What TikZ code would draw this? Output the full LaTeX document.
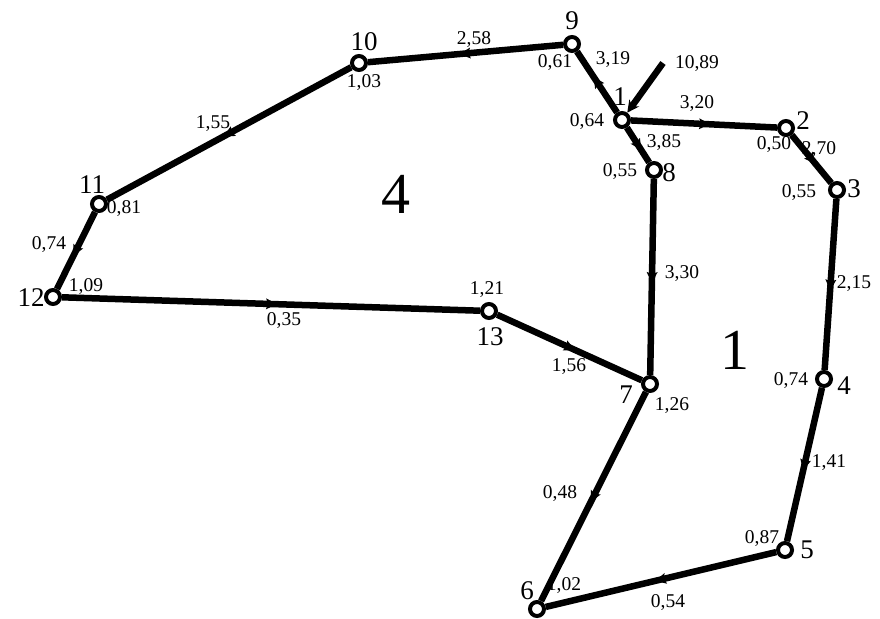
\documentclass[tikz,border=0pt]{standalone}
\usepackage{fontspec}
\setmainfont{Liberation Serif}
\usetikzlibrary{decorations.markings,arrows.meta}
\begin{document}
\begin{tikzpicture}[x=1pt,y=-1pt,
 pt/.style={circle,draw,line width=4pt,fill=white,inner sep=0pt,minimum size=14pt},
 pipe/.style={line width=6.5pt, postaction={decorate},
   decoration={markings, mark=at position 0.5 with {\fill (6pt,0pt) -- (-5pt,5.5pt) -- (-3pt,0pt) -- (-5pt,-5.5pt) -- cycle;}}},
 val/.style={font=\fontsize{19.5}{19.5}\selectfont, inner sep=0pt},
 num/.style={font=\fontsize{27}{27}\selectfont, inner sep=0pt},
 big/.style={font=\fontsize{58}{58}\selectfont, inner sep=0pt}]
\useasboundingbox (0,0) rectangle (880,618);
% points
\node[pt] (n1) at (622,120) {};
\node[pt] (n2) at (786,128) {};
\node[pt] (n3) at (837,190) {};
\node[pt] (n4) at (824,379) {};
\node[pt] (n5) at (785,550) {};
\node[pt] (n6) at (537,609) {};
\node[pt] (n7) at (650,384) {};
\node[pt] (n8) at (654,170) {};
\node[pt] (n9) at (572,44) {};
\node[pt] (n10) at (359,63) {};
\node[pt] (n11) at (99,204) {};
\node[pt] (n12) at (53,297) {};
\node[pt] (n13) at (489,311) {};
\coordinate (feed) at (663,63);
% connectors
\draw[line width=6.5pt, -{Stealth[length=12pt,width=12pt]}] (feed) -- (n1);
\draw[pipe] (n1) -- (n9);
\draw[pipe] (n9) -- (n10);
\draw[pipe] (n10) -- (n11);
\draw[pipe] (n11) -- (n12);
\draw[pipe] (n12) -- (n13);
\draw[pipe] (n13) -- (n7);
\draw[pipe] (n1) -- (n8);
\draw[pipe] (n8) -- (n7);
\draw[pipe] (n7) -- (n6);
\draw[pipe] (n1) -- (n2);
\draw[pipe] (n2) -- (n3);
\draw[pipe] (n3) -- (n4);
\draw[pipe] (n4) -- (n5);
\draw[pipe] (n5) -- (n6);
% point numbers
\node[num] (l1) at (620,97) {1};
\node[num] (l2) at (803,121) {2};
\node[num] (l3) at (854,189) {3};
\node[num] (l4) at (844,386) {4};
\node[num] (l5) at (807,550) {5};
\node[num] (l6) at (527,591) {6};
\node[num] (l7) at (626,395) {7};
\node[num] (l8) at (669,173) {8};
\node[num] (l9) at (572,21) {9};
\node[num] (l10) at (364,42) {10};
\node[num] (l11) at (92,185) {11};
\node[num] (l12) at (31,298) {12};
\node[num] (l13) at (490,337) {13};
% values
\node[val] at (697,64) {10,89};
\node[val] at (613,60) {3,19};
\node[val] at (555,63) {0,61};
\node[val] at (587,122) {0,64};
\node[val] at (697,104) {3,20};
\node[val] at (664,143) {3,85};
\node[val] at (620,172) {0,55};
\node[val] at (774,145) {0,50};
\node[val] at (819,150) {2,70};
\node[val] at (799,193) {0,55};
\node[val] at (474,40) {2,58};
\node[val] at (364,83) {1,03};
\node[val] at (213,124) {1,55};
\node[val] at (124,209) {0,81};
\node[val] at (49,245) {0,74};
\node[val] at (86,287) {1,09};
\node[val] at (284,321) {0,35};
\node[val] at (487,290) {1,21};
\node[val] at (569,367) {1,56};
\node[val] at (672,406) {1,26};
\node[val] at (682,274) {3,30};
\node[val] at (854,284) {2,15};
\node[val] at (791,381) {0,74};
\node[val] at (829,463) {1,41};
\node[val] at (560,494) {0,48};
\node[val] at (762,539) {0,87};
\node[val] at (564,586) {1,02};
\node[val] at (668,603) {0,54};
% ring numbers
\node[big] at (396,194) {4};
\node[big] at (735,350) {1};
\end{tikzpicture}
\end{document}
